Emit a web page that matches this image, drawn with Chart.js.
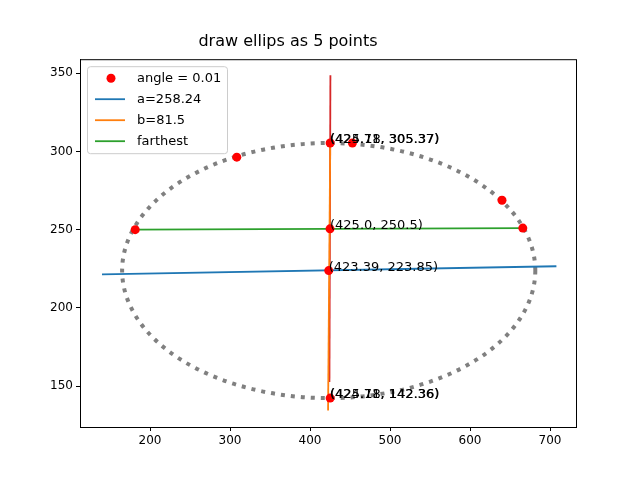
<!DOCTYPE html><html><head><script src="https://cdn.jsdelivr.net/npm/chart.js@4"></script>
<style>body{margin:0;background:#fff}#w{width:640px;height:480px}</style></head><body><div id="w"><canvas id="c"></canvas></div>
<script>
const pointsX=[181.5,308.5,425.18,453,640,666,425.0,423.39,425.18];
const pointsY=[250,296.3,305.37,305.37,268.8,251,250.5,223.85,142.36];
const labelTexts=['(425.18, 305.37)','(424.71, 305.37)','(425.0, 250.5)','(423.39, 223.85)','(425.18, 142.36)','(424.71, 142.36)'];
const labelX=[425.18,424.71,425.0,423.39,425.18,424.71];
const labelY=[305.37,305.37,250.5,223.85,142.36,142.36];
const xTicks=[200,300,400,500,600,700];
const yTicks=[150,200,250,300,350];
const lineA={x:[140,708],y:[221.4,226.6]};
const lineB={x:[425.3,422.6],y:[305.4,134.5]};
const lineF={x:[181.5,666],y:[250,251]};
const lineC={x:[425.5,424.3],y:[348.7,152.7]};
const ellipse={cx:423.39,cy:223.85,a:258.24,b:81.5};
const toXY=l=>l.x.map((x,i)=>({x,y:l.y[i]}));
const F='DejaVu Sans';
const plug={id:'p',
beforeDatasetsDraw(ch){const {ctx,scales:{x,y}}=ch;ctx.save();
 ctx.beginPath();ctx.ellipse(x.getPixelForValue(ellipse.cx),y.getPixelForValue(ellipse.cy),
 Math.abs(x.getPixelForValue(ellipse.cx+ellipse.a)-x.getPixelForValue(ellipse.cx)),
 Math.abs(y.getPixelForValue(ellipse.cy+ellipse.b)-y.getPixelForValue(ellipse.cy)),0,0,2*Math.PI);
 ctx.strokeStyle='#808080';ctx.lineWidth=4;ctx.setLineDash([4,6]);ctx.stroke();ctx.restore();},
afterDraw(ch){const {ctx,scales:{x,y},chartArea:ca}=ch;ctx.save();
 ctx.strokeStyle='#000';ctx.lineWidth=1;ctx.strokeRect(ca.left+0.5,ca.top+0.5,ca.right-ca.left,ca.bottom-ca.top);
 ctx.font='13px '+F;ctx.fillStyle='#000';ctx.textBaseline='alphabetic';
 labelTexts.forEach((t,i)=>ctx.fillText(t,x.getPixelForValue(labelX[i]),y.getPixelForValue(labelY[i])));
 const lx=ca.left+7,ly=ca.top+7;ctx.fillStyle='rgba(255,255,255,0.8)';ctx.strokeStyle='#ccc';ctx.lineWidth=1;
 ctx.beginPath();ctx.roundRect(lx+0.5,ly+0.5,140,87,3);ctx.fill();ctx.stroke();
 const items=[['angle = 0.01','red','pt'],['a=258.24','#1f77b4'],['b=81.5','#ff7f0e'],['farthest','#2ca02c']];
 ctx.font='13px '+F;ctx.textBaseline='middle';
 items.forEach((it,i)=>{const yy=ly+12+i*21;
  if(it[2]){ctx.fillStyle=it[1];ctx.beginPath();ctx.arc(lx+24,yy,4.5,0,7);ctx.fill();}
  else{ctx.strokeStyle=it[1];ctx.lineWidth=1.8;ctx.beginPath();ctx.moveTo(lx+8,yy);ctx.lineTo(lx+38,yy);ctx.stroke();}
  ctx.fillStyle='#000';ctx.fillText(it[0],lx+50,yy);});
 ctx.restore();}};
const ln=(d,c)=>({type:'line',data:toXY(d),borderColor:c,borderWidth:1.8,pointRadius:0,fill:false});
const gridOpt={drawOnChartArea:false,drawTicks:true,tickLength:4,color:'#000'};
new Chart(document.getElementById('c'),{type:'scatter',data:{datasets:[
 {data:pointsX.map((x,i)=>({x,y:pointsY[i]})),backgroundColor:'red',borderWidth:0,pointRadius:4.5},
 ln(lineA,'#1f77b4'),ln(lineB,'#ff7f0e'),ln(lineF,'#2ca02c'),ln(lineC,'#d62728')]},
options:{responsive:true,maintainAspectRatio:false,animation:false,
 layout:{padding:{top:0,right:64,bottom:0,left:0}},
 plugins:{legend:{display:false},tooltip:{enabled:false},
  title:{display:true,text:'draw ellips as 5 points',color:'#000',font:{family:F,size:16,weight:'normal'},padding:{top:32,bottom:8}}},
 scales:{x:{type:'linear',min:112.5,max:732.5,grid:gridOpt,border:{color:'#000'},
   afterBuildTicks(s){s.ticks=xTicks.map(v=>({value:v}))},
   ticks:{color:'#000',font:{family:F,size:12},padding:3},
   afterFit(s){s.height=53}},
  y:{min:123.9,max:358.9,grid:gridOpt,border:{color:'#000'},
   afterBuildTicks(s){s.ticks=yTicks.map(v=>({value:v}))},
   ticks:{color:'#000',font:{family:F,size:12},padding:3},afterFit(s){s.width=80}}}},
plugins:[plug]});
</script></body></html>
